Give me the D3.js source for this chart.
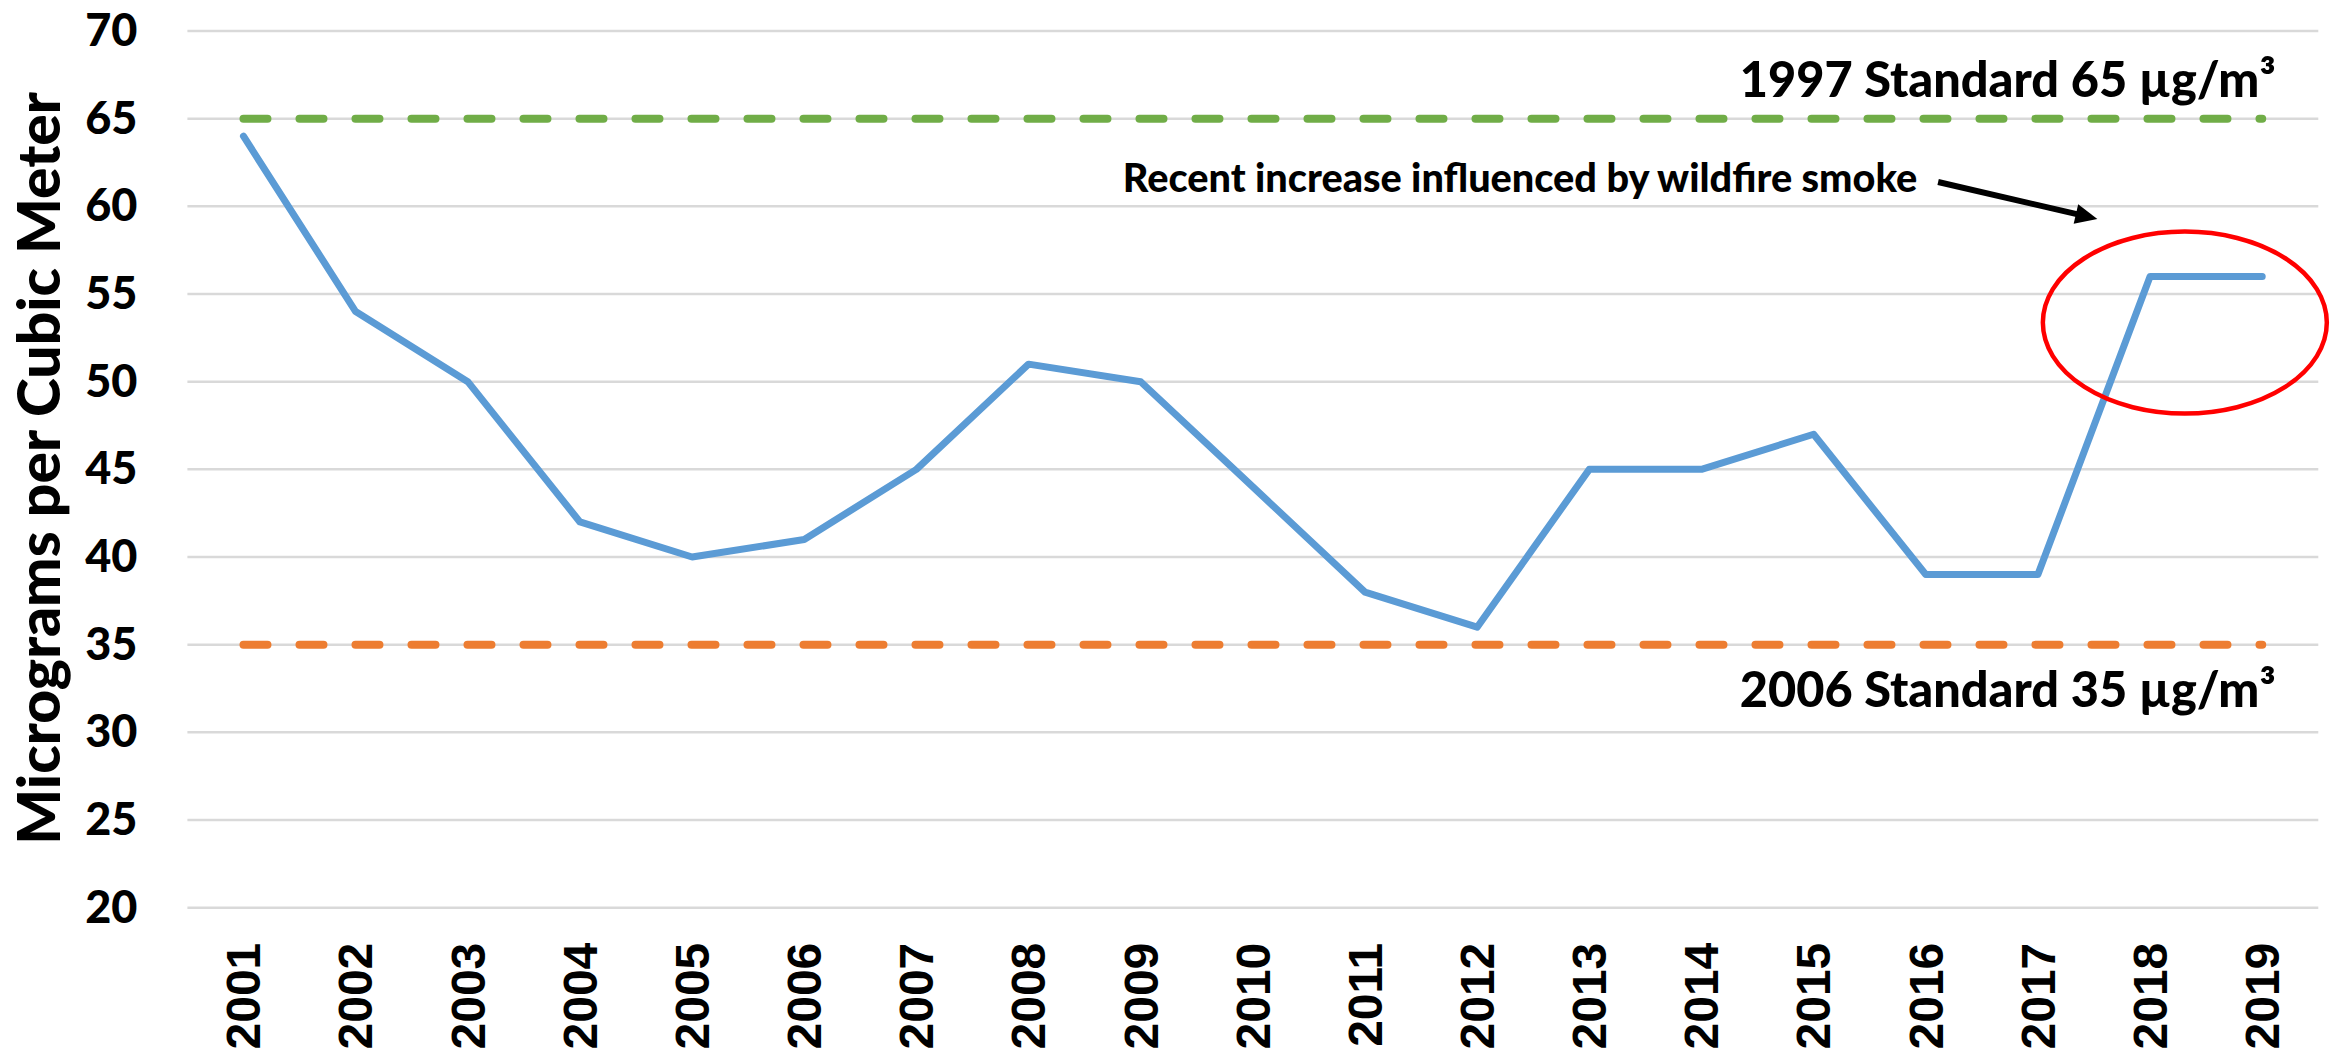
<!DOCTYPE html>
<html>
<head>
<meta charset="utf-8">
<script src="https://cdn.jsdelivr.net/npm/d3@7"></script>
<style>
  body { margin: 0; background: #fff; }
</style>
</head>
<body>
<div id="chart-area"></div>
<script>
// PM2.5 98th percentile, yearly

var years = ["2001", "2002", "2003", "2004", "2005", "2006", "2007", "2008", "2009", "2010",
             "2011", "2012", "2013", "2014", "2015", "2016", "2017", "2018", "2019"];
var pm25 = [64, 54, 50, 42, 40, 41, 45, 51, 50, 44, 38, 36, 45, 45, 47, 39, 39, 56, 56];
var yTicks = [20, 25, 30, 35, 40, 45, 50, 55, 60, 65, 70];
var standardValues = [65, 35];
var standardLabels = ["1997 Standard 65 µg/m³", "2006 Standard 35 µg/m³"];
var noteText = "Recent increase influenced by wildfire smoke";
var yTitle = "Micrograms per Cubic Meter";

var width = 2331, height = 1052;
var margin = { left: 187.4, right: 12.7, top: 31, bottom: 144.3 };
var calibriLike = "Lato, 'Open Sans', sans-serif";
var standardColors = ["#70ad47", "#ed7d31"];

var svg = d3.select("#chart-area")
    .append("svg")
    .attr("width", width)
    .attr("height", height);

var x = d3.scaleBand()
    .domain(years)
    .range([margin.left, width - margin.right])
    .padding(0);

var y = d3.scaleLinear()
    .domain([20, 70])
    .range([height - margin.bottom, margin.top]);

function cx(d) { return x(d) + x.bandwidth() / 2; }
// fractional category position (for annotations)
function xi(i) { return margin.left + (i + 0.5) * x.bandwidth(); }

function fitText(sel, target) {
    var len = sel.node().getComputedTextLength();
    var fs = parseFloat(sel.attr("font-size"));
    sel.attr("font-size", fs * target / len);
}

// gridlines
svg.append("g")
  .selectAll("line")
  .data(yTicks)
  .join("line")
    .attr("x1", margin.left)
    .attr("x2", width - margin.right)
    .attr("y1", function(d) { return y(d); })
    .attr("y2", function(d) { return y(d); })
    .attr("stroke", "#d9d9d9")
    .attr("stroke-width", 2.5);

// y axis
var yAxis = svg.append("g")
    .attr("transform", "translate(" + margin.left + ",0)")
    .call(d3.axisLeft(y).tickValues(yTicks).tickSize(0).tickPadding(50));
yAxis.select(".domain").remove();
yAxis.selectAll("text")
    .attr("font-family", calibriLike)
    .attr("font-size", 45)
    .attr("font-weight", 900)
    .attr("fill", "#000");

// x axis
var xAxis = svg.append("g")
    .attr("transform", "translate(0," + (height - margin.bottom) + ")")
    .call(d3.axisBottom(x).tickSize(0));
xAxis.select(".domain").remove();
xAxis.selectAll("text")
    .attr("x", 0)
    .attr("y", 0)
    .attr("dy", "0.35em")
    .attr("transform", "translate(0,35) rotate(-90)")
    .attr("text-anchor", "end")
    .attr("font-family", "'Liberation Sans', Arial, sans-serif")
    .attr("font-size", 48)
    .attr("font-weight", "bold")
    .attr("fill", "#000");

// y title
var title = svg.append("text")
    .attr("transform", "translate(60," + ((margin.top + height - margin.bottom) / 2 - 1) + ") rotate(-90)")
    .attr("text-anchor", "middle")
    .attr("font-family", calibriLike)
    .attr("font-size", 56)
    .attr("font-weight", 900)
    .attr("fill", "#000")
    .text(yTitle);
fitText(title, 753);

// standard lines
standardValues.forEach(function(v, k) {
    svg.append("path")
        .datum(years)
        .attr("fill", "none")
        .attr("stroke", standardColors[k])
        .attr("stroke-width", 8)
        .attr("stroke-linecap", "round")
        .attr("stroke-dasharray", "24,32")
        .attr("d", d3.line().x(cx).y(function() { return y(v); }));
});

// standard labels
var labelY = [y(66.25), y(31.43)];
standardLabels.forEach(function(t, k) {
    var lab = svg.append("text")
        .attr("x", xi(18.12))
        .attr("y", labelY[k])
        .attr("text-anchor", "end")
        .attr("font-family", calibriLike)
        .attr("font-size", 48)
        .attr("font-weight", 900)
        .attr("fill", "#000")
        .text(t);
    fitText(lab, 536);
});

// data line
var line = d3.line()
    .x(function(d, i) { return cx(years[i]); })
    .y(function(d) { return y(d); });

svg.append("path")
    .datum(pm25)
    .attr("fill", "none")
    .attr("stroke", "#5b9bd5")
    .attr("stroke-width", 7)
    .attr("stroke-linejoin", "round")
    .attr("stroke-linecap", "round")
    .attr("d", line);

// ellipse around 2018-2019
svg.append("ellipse")
    .attr("cx", xi(17.31))
    .attr("cy", y(53.37))
    .attr("rx", 1.266 * x.bandwidth())
    .attr("ry", y(0) - y(5.19))
    .attr("fill", "none")
    .attr("stroke", "#ff0000")
    .attr("stroke-width", 4.5);

// annotation text
var note = svg.append("text")
    .attr("x", xi(7.84))
    .attr("y", y(60.84))
    .attr("font-family", calibriLike)
    .attr("font-size", 36)
    .attr("font-weight", 900)
    .attr("fill", "#000")
    .text(noteText);
fitText(note, 795);

// arrow
var a0 = [xi(15.11), y(61.39)], a1 = [xi(16.53), y(59.28)];
var dx = a1[0] - a0[0], dy = a1[1] - a0[1], L = Math.sqrt(dx * dx + dy * dy);
var ux = dx / L, uy = dy / L, headLen = 22, headW = 10;
var base = [a1[0] - ux * headLen, a1[1] - uy * headLen];

svg.append("line")
    .attr("x1", a0[0]).attr("y1", a0[1])
    .attr("x2", base[0] + ux * 2).attr("y2", base[1] + uy * 2)
    .attr("stroke", "#000")
    .attr("stroke-width", 6);

svg.append("path")
    .attr("d", "M" + a1[0] + "," + a1[1] +
               "L" + (base[0] - uy * headW) + "," + (base[1] + ux * headW) +
               "L" + (base[0] + uy * headW) + "," + (base[1] - ux * headW) + "Z")
    .attr("fill", "#000");
</script>
</body>
</html>
